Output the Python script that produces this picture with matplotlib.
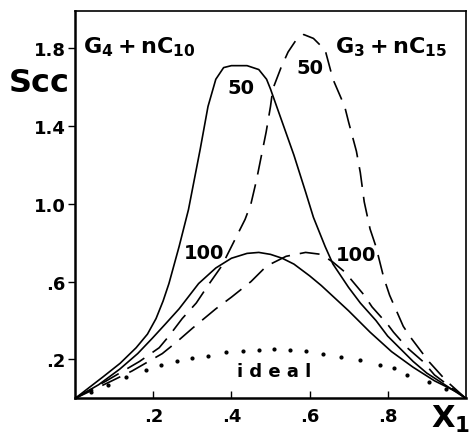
import matplotlib
matplotlib.use('Agg')
import matplotlib.pyplot as plt

# curve values (x1, Scc)
x_g4_50 = [0, 0.071, 0.115, 0.156, 0.185, 0.207, 0.225, 0.24, 0.266, 0.29, 0.32, 0.34, 0.36, 0.38, 0.40,
           0.44, 0.47, 0.49, 0.50, 0.53, 0.56, 0.59, 0.61, 0.64, 0.66, 0.70, 0.73, 0.77, 0.80, 0.865, 0.90,
           0.95, 1.0]
y_g4_50 = [0, 0.11, 0.18, 0.26, 0.33, 0.41, 0.50, 0.59, 0.78, 0.97, 1.28, 1.50, 1.64, 1.70, 1.71,
           1.71, 1.69, 1.64, 1.59, 1.42, 1.25, 1.06, 0.93, 0.78, 0.69, 0.57, 0.49, 0.40, 0.32, 0.19, 0.13,
           0.065, 0]

x_g4_100 = [0, 0.06, 0.114, 0.16, 0.198, 0.23, 0.266, 0.316, 0.36, 0.40, 0.44, 0.47, 0.50, 0.53, 0.56,
            0.60, 0.63, 0.70, 0.755, 0.81, 0.865, 0.92, 0.98, 1.0]
y_g4_100 = [0, 0.07, 0.15, 0.23, 0.31, 0.38, 0.46, 0.59, 0.67, 0.72, 0.745, 0.75, 0.74, 0.72, 0.69,
            0.63, 0.58, 0.45, 0.34, 0.24, 0.16, 0.09, 0.03, 0]

x_g3_50 = [0, 0.08, 0.165, 0.215, 0.24, 0.274, 0.31, 0.34, 0.375, 0.40, 0.435, 0.45, 0.464, 0.477, 0.489,
           0.50, 0.506, 0.527, 0.545, 0.565, 0.585, 0.61, 0.64, 0.66, 0.69, 0.70, 0.72, 0.73, 0.74, 0.755,
           0.77, 0.79, 0.805, 0.84, 0.86, 0.905, 0.95, 1.0]
y_g3_50 = [0, 0.09, 0.19, 0.26, 0.32, 0.41, 0.49, 0.58, 0.68, 0.78, 0.92, 1.00, 1.12, 1.25, 1.37,
           1.50, 1.59, 1.70, 1.78, 1.84, 1.87, 1.85, 1.79, 1.64, 1.50, 1.42, 1.27, 1.16, 1.01, 0.87,
           0.78, 0.62, 0.53, 0.37, 0.31, 0.19, 0.09, 0]

x_g3_100 = [0, 0.094, 0.145, 0.223, 0.26, 0.30, 0.36, 0.40, 0.45, 0.49, 0.54, 0.59, 0.63, 0.66, 0.69,
            0.74, 0.76, 0.80, 0.815, 0.85, 0.89, 0.92, 0.96, 1.0]
y_g3_100 = [0, 0.09, 0.14, 0.23, 0.29, 0.36, 0.46, 0.52, 0.60, 0.68, 0.73, 0.75, 0.74, 0.70, 0.65,
            0.53, 0.47, 0.38, 0.34, 0.26, 0.19, 0.12, 0.06, 0]

x_ideal = [0.04, 0.085, 0.13, 0.18, 0.22, 0.26, 0.30, 0.34, 0.385, 0.43, 0.47, 0.51, 0.55, 0.59,
           0.635, 0.68, 0.73, 0.78, 0.815, 0.85, 0.905, 0.95]
y_ideal = [0.035, 0.07, 0.11, 0.145, 0.17, 0.19, 0.205, 0.22, 0.24, 0.245, 0.25, 0.255, 0.25, 0.245,
           0.23, 0.215, 0.195, 0.17, 0.155, 0.12, 0.085, 0.05]

y_ticks = [0.2, 0.6, 1.0, 1.4, 1.8]
y_tick_labels = ['.2', '.6', '1.0', '1.4', '1.8']
x_ticks = [0.2, 0.4, 0.6, 0.8]
x_tick_labels = ['.2', '.4', '.6', '.8']

fig = plt.figure(figsize=(4.7, 4.35), dpi=100)
ax = fig.add_axes([0.160, 0.082, 0.831, 0.890])

lw = 1.2
dash = (0, (12, 6))
ax.plot(x_g4_50, y_g4_50, color='black', lw=lw)
ax.plot(x_g4_100, y_g4_100, color='black', lw=lw)
ax.plot(x_g3_50, y_g3_50, color='black', lw=lw, linestyle=dash)
ax.plot(x_g3_100, y_g3_100, color='black', lw=lw, linestyle=dash)
ax.plot(x_ideal, y_ideal, linestyle='none', marker='o', markersize=2.0, color='black')

ax.set_xlim(0, 1)
ax.set_ylim(0, 1.99)

ax.set_yticks(y_ticks)
ax.set_yticklabels(y_tick_labels)
ax.set_xticks(x_ticks)
ax.set_xticklabels(x_tick_labels)
ax.tick_params(axis='y', direction='out', length=5, width=1, labelsize=13, pad=2)
ax.tick_params(axis='x', direction='in', length=5, width=1, labelsize=13, pad=6)
for lab in ax.get_xticklabels() + ax.get_yticklabels():
    lab.set_fontweight('bold')

for side in ['left', 'bottom']:
    ax.spines[side].set_linewidth(1.8)
for side in ['top', 'right']:
    ax.spines[side].set_linewidth(1.2)

# labels on the plot
ax.text(0.02, 1.81, r'$\mathbf{G_4 + nC_{10}}$', fontsize=16, ha='left', va='center')
ax.text(0.665, 1.81, r'$\mathbf{G_3 + nC_{15}}$', fontsize=16, ha='left', va='center')
ax.text(0.425, 1.60, '50', fontsize=14, fontweight='bold', ha='center', va='center')
ax.text(0.60, 1.70, '50', fontsize=14, fontweight='bold', ha='center', va='center')
ax.text(0.33, 0.75, '100', fontsize=14, fontweight='bold', ha='center', va='center')
ax.text(0.72, 0.74, '100', fontsize=14, fontweight='bold', ha='center', va='center')
ax.text(0.51, 0.14, 'i d e a l', fontsize=13, fontweight='bold', ha='center', va='center')

fig.text(0.018, 0.808, 'Scc', fontsize=23, fontweight='bold', ha='left', va='center')
fig.text(0.918, 0.035, r'$\mathbf{X_1}$', fontsize=22, ha='left', va='center')

fig.savefig('out.png', dpi=100)
